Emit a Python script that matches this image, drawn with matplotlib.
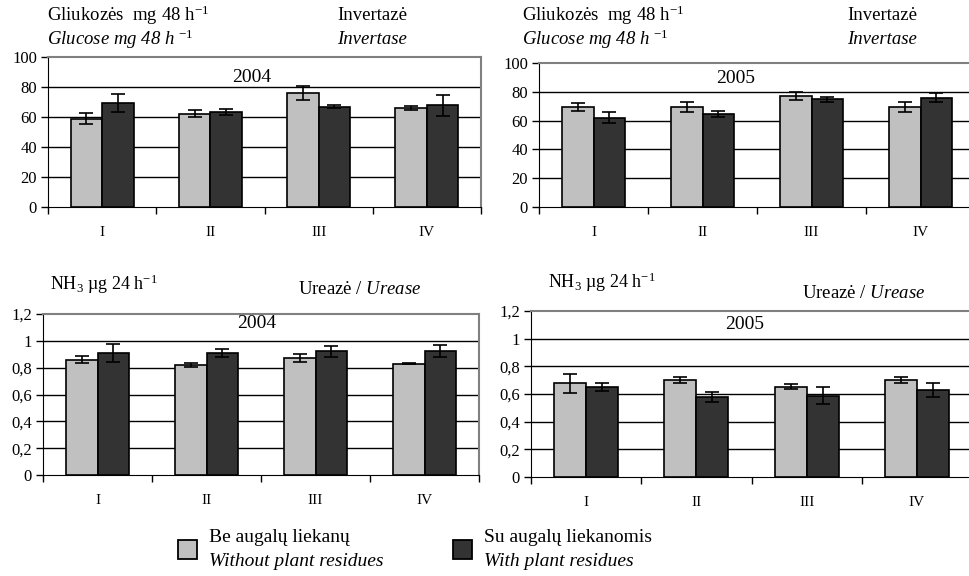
import numpy as np
import matplotlib.pyplot as plt

plt.rcParams['font.family'] = ['Liberation Serif', 'DejaVu Serif']
plt.rcParams['mathtext.fontset'] = 'custom'
plt.rcParams['mathtext.rm'] = 'Liberation Serif'
plt.rcParams['mathtext.it'] = 'Liberation Serif:italic'

# Data
groups = ['I', 'II', 'III', 'IV']

inv_2004_without = [59, 62.2, 76.2, 65.8]
inv_2004_without_err = [3.6, 2.5, 4.7, 1.3]
inv_2004_with = [69.3, 63.3, 66.9, 68]
inv_2004_with_err = [6, 2, 1.1, 7]

inv_2005_without = [69.5, 69.5, 77, 69.5]
inv_2005_without_err = [3, 3.7, 2.6, 3.7]
inv_2005_with = [62.1, 64.7, 74.7, 75.8]
inv_2005_with_err = [3.7, 1.9, 1.9, 3.1]

ure_2004_without = [0.859, 0.819, 0.871, 0.831]
ure_2004_without_err = [0.026, 0.013, 0.032, 0.005]
ure_2004_with = [0.909, 0.909, 0.921, 0.921]
ure_2004_with_err = [0.065, 0.027, 0.038, 0.045]

ure_2005_without = [0.676, 0.703, 0.652, 0.703]
ure_2005_without_err = [0.068, 0.02, 0.019, 0.02]
ure_2005_with = [0.652, 0.577, 0.589, 0.628]
ure_2005_with_err = [0.031, 0.037, 0.064, 0.05]

inv_labels = ['0', '20', '40', '60', '80', '100']
ure_labels = ['0', '0,2', '0,4', '0,6', '0,8', '1', '1,2']

light = '#c0c0c0'
dark = '#333333'

fig = plt.figure(figsize=(9.69, 5.76), dpi=100)
W, H = 969.0, 576.0


def make_axes(x0, x1, ytop, ybot):
    return fig.add_axes([x0 / W, 1 - ybot / H, (x1 - x0) / W, (ybot - ytop) / H])


def draw_panel(ax, a, a_err, b, b_err, ymax, step, ticklabels, year, year_x, year_y):
    x = np.arange(len(groups))
    w = 0.29
    ax.bar(x - w / 2, a, w, color=light, edgecolor='black', linewidth=1.2, zorder=3)
    ax.bar(x + w / 2, b, w, color=dark, edgecolor='black', linewidth=1.2, zorder=3)
    ax.errorbar(x - w / 2, a, yerr=a_err, fmt='none', ecolor='black', elinewidth=1.2,
                capsize=5, capthick=1.2, zorder=4)
    ax.errorbar(x + w / 2, b, yerr=b_err, fmt='none', ecolor='black', elinewidth=1.2,
                capsize=5, capthick=1.2, zorder=4)
    ax.set_xlim(-0.5, len(groups) - 0.5)
    ax.set_ylim(0, ymax)
    yt = np.arange(0, ymax + step / 2, step)
    ax.set_yticks(yt)
    ax.set_yticklabels(ticklabels, fontsize=12)
    for v in yt[1:-1]:
        ax.axhline(v, color='black', linewidth=1.0, zorder=1)
    # ticks at category boundaries, labels at category centres
    ax.set_xticks(np.arange(len(groups) + 1) - 0.5)
    ax.set_xticklabels([])
    ax.set_xticks(x, minor=True)
    ax.set_xticklabels(groups, minor=True, fontsize=11)
    ax.tick_params(axis='x', which='minor', length=0, pad=14)
    ax.tick_params(axis='x', which='major', length=5, direction='out', width=1)
    ax.tick_params(axis='y', length=5, direction='out', width=1, pad=3)
    for s in ['top', 'right']:
        ax.spines[s].set_color('#808080')
        ax.spines[s].set_linewidth(1.5)
    ax.spines['left'].set_color('black')
    ax.spines['bottom'].set_color('black')
    ax.text(year_x, year_y, year, transform=ax.transAxes, ha='center', va='center', fontsize=14)


ax1 = make_axes(48, 481, 57, 207)
draw_panel(ax1, inv_2004_without, inv_2004_without_err, inv_2004_with, inv_2004_with_err,
           100, 20, inv_labels, '2004', 0.47, 0.863)
ax2 = make_axes(539, 975, 63, 207)
draw_panel(ax2, inv_2005_without, inv_2005_without_err, inv_2005_with, inv_2005_with_err,
           100, 20, inv_labels, '2005', 0.45, 0.892)
ax3 = make_axes(43, 479, 314, 475)
draw_panel(ax3, ure_2004_without, ure_2004_without_err, ure_2004_with, ure_2004_with_err,
           1.2, 0.2, ure_labels, '2004', 0.489, 0.938)
ax4 = make_axes(531, 972, 311, 477)
draw_panel(ax4, ure_2005_without, ure_2005_without_err, ure_2005_with, ure_2005_with_err,
           1.2, 0.2, ure_labels, '2005', 0.485, 0.916)


def ftext(x, y, s, **kw):
    fig.text(x / W, 1 - y / H, s, va='center', **kw)


# panel headings
for x_off, inv_x in [(0, 337), (475, 847)]:
    ftext(47 + x_off, 15, r'Gliukozės  mg 48 h$^{\mathrm{-1}}$', fontsize=13.5)
    ftext(47 + x_off, 39, r'Glucose mg 48 h $^{-1}$', fontsize=13.5, style='italic')
    ftext(inv_x, 15, 'Invertazė', fontsize=13.5)
    ftext(inv_x, 39, 'Invertase', fontsize=13.5, style='italic')

ftext(50, 284, r'NH$_3$ µg 24 h$^{\mathrm{-1}}$', fontsize=13)
ftext(548, 282, r'NH$_3$ µg 24 h$^{\mathrm{-1}}$', fontsize=13)
ftext(298, 289, r'Ureazė / $\it{Urease}$', fontsize=13.5)
ftext(802, 293, r'Ureazė / $\it{Urease}$', fontsize=13.5)

# legend
for sx, c, t1, t2 in [(178, light, 'Be augalų liekanų', 'Without plant residues'),
                      (453, dark, 'Su augalų liekanomis', 'With plant residues')]:
    fig.patches.append(plt.Rectangle((sx / W, 1 - 559 / H), 19 / W, 19 / H,
                                     transform=fig.transFigure, facecolor=c,
                                     edgecolor='black', linewidth=1.3))
    ftext(sx + 31, 538, t1, fontsize=14)
    ftext(sx + 31, 561, t2, fontsize=14, style='italic')

plt.savefig('out.png', dpi=100)
